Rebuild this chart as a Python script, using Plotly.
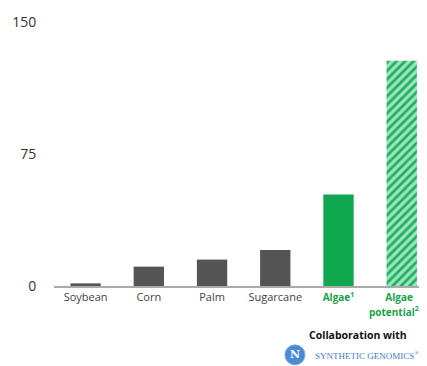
import plotly.graph_objects as go

categories = ["Soybean", "Corn", "Palm", "Sugarcane", "Algae", "Algae potential"]
tick_labels = [
    "Soybean", "Corn", "Palm", "Sugarcane",
    "<span style='color:#16a34a;font-size:10px'><b>Algae<sup>1</sup></b></span>",
    "<span style='color:#16a34a;font-size:10px'><b>Algae&nbsp;&nbsp;<br>potential<sup>2</sup>&nbsp;&nbsp;&nbsp;&nbsp;&nbsp;&nbsp;</b></span>",
]
values = [1.5, 11, 15, 20.5, 52, 128]
y_ticks = [0, 75, 150]

DARK = "#555555"
GREEN = "#10a84e"

fig = go.Figure()
fig.add_trace(go.Bar(
    x=categories[:4], y=values[:4], width=0.48,
    marker=dict(color=DARK, line=dict(width=0)), showlegend=False,
))
fig.add_trace(go.Bar(
    x=[categories[4]], y=[values[4]], width=0.48,
    marker=dict(color=GREEN, line=dict(width=0)), showlegend=False,
))
fig.add_trace(go.Bar(
    x=[categories[5]], y=[values[5]], width=0.48,
    marker=dict(color="#8fe0b6", line=dict(width=0),
                pattern=dict(shape="/", fgcolor="#1fae5c", bgcolor="#9be4bd",
                             size=6, solidity=0.45, fillmode="replace")),
    showlegend=False,
))

fig.update_layout(
    width=419, height=358,
    margin=dict(l=46, r=0, t=14, b=80, autoexpand=False),
    paper_bgcolor="white", plot_bgcolor="white",
    font=dict(family="Open Sans", color="#333333"),
    bargap=0.5,
    xaxis=dict(
        categoryorder="array", categoryarray=categories,
        tickvals=categories, ticktext=tick_labels,
        range=[-0.5, 5.4], automargin=False,
        showline=True, linecolor="#aaaaaa", linewidth=2,
        showgrid=False, ticks="", tickfont=dict(size=11, color="#444444"),
        fixedrange=True,
    ),
    yaxis=dict(
        range=[0, 150], tickvals=y_ticks, automargin=False,
        showgrid=False, zeroline=False, showline=False,
        ticks="outside", ticklen=14, tickcolor="rgba(0,0,0,0)",
        tickfont=dict(size=14, color="#333333"),
        fixedrange=True,
    ),
)

fig.add_annotation(
    x=0.815, y=-0.186, xref="paper", yref="paper",
    xanchor="center", yanchor="middle",
    text="<b>Collaboration with</b>", showarrow=False,
    font=dict(size=10.5, color="#111111", family="Open Sans"),
)
fig.add_shape(
    type="circle", xref="paper", yref="paper",
    x0=0.619, x1=0.673, y0=-0.223, y1=-0.299,
    fillcolor="#4a8ad4", line=dict(color="#7fb0e6", width=1),
)
fig.add_annotation(
    x=0.646, y=-0.261, xref="paper", yref="paper",
    xanchor="center", yanchor="middle",
    text="<b>N</b>", showarrow=False,
    font=dict(size=11, color="white", family="DejaVu Serif"),
)
fig.add_annotation(
    x=0.84, y=-0.261, xref="paper", yref="paper",
    xanchor="center", yanchor="middle",
    text="SYNTHETIC GENOMICS<sup>®</sup>", showarrow=False,
    font=dict(size=9, color="#3d7cc9", family="Liberation Serif"),
)

fig.write_html("out.html")
